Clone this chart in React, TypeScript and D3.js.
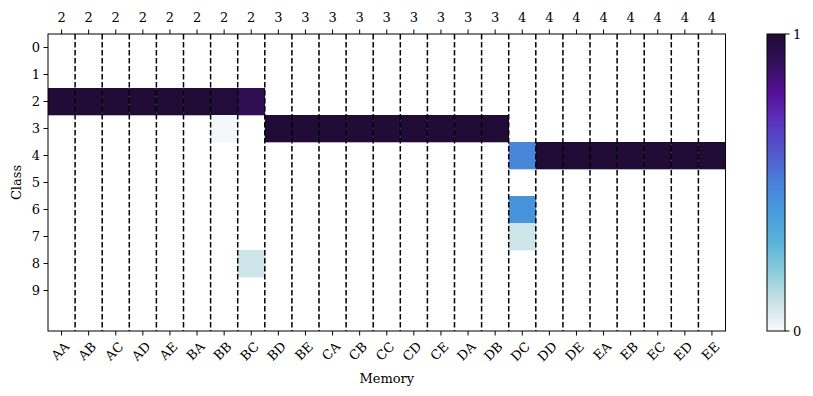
import React from 'react';
import * as d3 from 'd3';

const memories = ['AA', 'AB', 'AC', 'AD', 'AE', 'BA', 'BB', 'BC', 'BD', 'BE', 'CA', 'CB', 'CC', 'CD', 'CE', 'DA', 'DB', 'DC', 'DD', 'DE', 'EA', 'EB', 'EC', 'ED', 'EE'];
const topLabels = [2, 2, 2, 2, 2, 2, 2, 2, 3, 3, 3, 3, 3, 3, 3, 3, 3, 4, 4, 4, 4, 4, 4, 4, 4];
const classes = [0, 1, 2, 3, 4, 5, 6, 7, 8, 9];

// non-zero cells: [memory index, class, value]
const cells: [number, number, number][] = [
  [0, 2, 0.99], [1, 2, 0.99], [2, 2, 0.99], [3, 2, 0.99], [4, 2, 0.99], [5, 2, 0.99], [6, 2, 0.98],
  [7, 2, 0.92],
  [6, 3, 0.01],
  [8, 3, 0.99], [9, 3, 0.99], [10, 3, 0.99], [11, 3, 0.99], [12, 3, 0.99], [13, 3, 0.99], [14, 3, 0.99], [15, 3, 0.99], [16, 3, 0.99],
  [17, 4, 0.48],
  [18, 4, 0.99], [19, 4, 0.99], [20, 4, 0.99], [21, 4, 0.99], [22, 4, 0.99], [23, 4, 0.99], [24, 4, 0.99],
  [17, 6, 0.43],
  [17, 7, 0.09],
  [7, 8, 0.09],
];

const cmapStops = ['#f7f9fb', '#c8e2e6', '#8ccbdb', '#5ab3d8', '#479cdb', '#4a80da', '#5258cc', '#5a35c0', '#55109a', '#33105a', '#1e0b33'];
const color = d3.scaleLinear<string>()
  .domain(cmapStops.map((_, i) => i / (cmapStops.length - 1)))
  .range(cmapStops)
  .interpolate(d3.interpolateRgb);

const W = 813;
const H = 396;
const margin = {left: 48, right: 725.5, top: 34, bottom: 331};
const font = 'DejaVu Serif';

export default function App() {
  const x = d3.scaleBand<string>().domain(memories).range([margin.left, margin.right]);
  const y = d3.scaleLinear().domain([-0.5, 10.5]).range([margin.top, margin.bottom]);
  const bw = x.bandwidth();
  const cb = {x: 767, w: 18};
  const cbY = d3.scaleLinear().domain([0, 1]).range([margin.bottom, margin.top]);
  const gradStops = d3.range(0, 1.0001, 0.05);

  return (
    <svg width={W} height={H} style={{position: 'absolute', left: 0, top: 0}} fontFamily={font}>
      <defs>
        <linearGradient id='cbar' x1='0' y1='1' x2='0' y2='0'>
          {gradStops.map((t) => <stop key={t} offset={t} stopColor={color(t)} />)}
        </linearGradient>
      </defs>
      <rect x={0} y={0} width={W} height={H} fill='#fff' />
      {cells.map(([m, c, v], i) => (
        <rect key={i} x={x(memories[m])!} y={y(c - 0.5)} width={bw + 0.3} height={y(c + 0.5) - y(c - 0.5) + 0.3} fill={color(v)} />
      ))}
      {memories.slice(1).map((m) => (
        <line key={m} x1={x(m)!} x2={x(m)!} y1={margin.top} y2={margin.bottom} stroke='#000' strokeWidth={1.5} strokeDasharray='5.5,2.5' />
      ))}
      <rect x={margin.left} y={margin.top} width={margin.right - margin.left} height={margin.bottom - margin.top} fill='none' stroke='#000' strokeWidth={1} />
      {memories.map((m, i) => {
        const cx = x(m)! + bw / 2;
        return (
          <g key={m}>
            <line x1={cx} x2={cx} y1={margin.bottom} y2={margin.bottom + 4.5} stroke='#000' />
            <text transform={`translate(${cx + 6},${margin.bottom + 14}) rotate(-45)`} textAnchor='end' dominantBaseline='middle' fontSize={13}>{m}</text>
            <line x1={cx} x2={cx} y1={margin.top} y2={margin.top - 4.5} stroke='#000' />
            <text x={cx} y={margin.top - 12} textAnchor='middle' fontSize={13}>{topLabels[i]}</text>
          </g>
        );
      })}
      {classes.map((c) => (
        <g key={c}>
          <line x1={margin.left} x2={margin.left - 4.5} y1={y(c)} y2={y(c)} stroke='#000' />
          <text x={margin.left - 8} y={y(c)} textAnchor='end' dominantBaseline='central' fontSize={13}>{c}</text>
        </g>
      ))}
      <text x={(margin.left + margin.right) / 2} y={383} textAnchor='middle' fontSize={13}>Memory</text>
      <text transform={`translate(21,${(margin.top + margin.bottom) / 2}) rotate(-90)`} textAnchor='middle' fontSize={13}>Class</text>
      <rect x={cb.x} y={margin.top} width={cb.w} height={margin.bottom - margin.top} fill='url(#cbar)' stroke='#000' strokeWidth={1} />
      {[0, 1].map((t) => (
        <g key={t}>
          <line x1={cb.x + cb.w} x2={cb.x + cb.w + 4.5} y1={cbY(t)} y2={cbY(t)} stroke='#000' />
          <text x={cb.x + cb.w + 8} y={cbY(t)} dominantBaseline='central' fontSize={13}>{t}</text>
        </g>
      ))}
    </svg>
  );
}
